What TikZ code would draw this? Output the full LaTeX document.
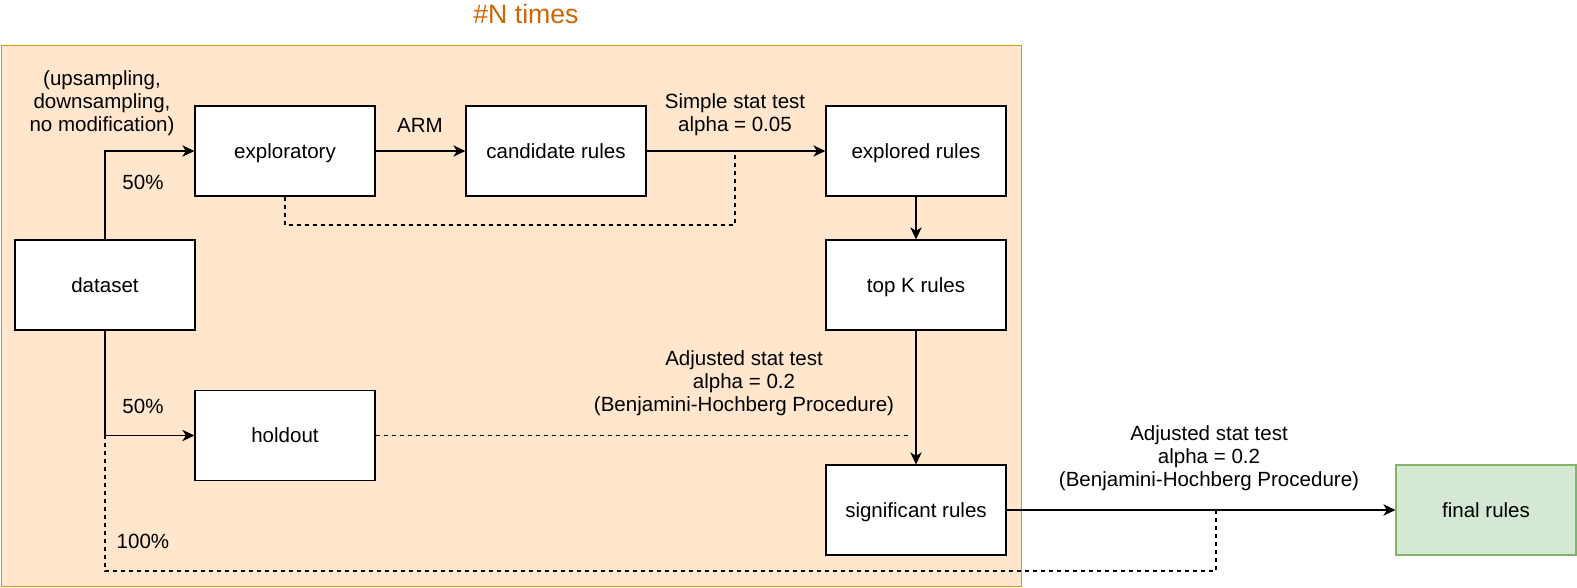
\documentclass[tikz,border=0pt]{standalone}
\usepackage{fontspec}
\setmainfont{Liberation Sans}
\usepackage{xcolor}
\usetikzlibrary{arrows.meta,positioning,calc}

\definecolor{loopfill}{HTML}{FFE6CC}
\definecolor{loopdraw}{HTML}{D79B00}
\definecolor{looptext}{HTML}{CC6600}
\definecolor{finalfill}{HTML}{D5E8D4}
\definecolor{finaldraw}{HTML}{82B366}

\begin{document}
\begin{tikzpicture}[x=0.75pt, y=-0.75pt, >={Stealth[length=9pt,width=8.5pt,inset=2.6pt]}, line width=0.9pt,
    box/.style={draw, rectangle, fill=white, minimum width=135pt, minimum height=67.5pt, align=center, font=\fontsize{15.4}{17.6}\selectfont, inner sep=0pt, text height=13pt, text depth=2.4pt},
    lbl/.style={align=center, font=\fontsize{15.4}{17.3}\selectfont, inner sep=0pt},
    dashline/.style={line width=0.8pt, dash pattern=on 3pt off 3pt}]
    \useasboundingbox (0,0) rectangle (1577,587);

    % repeated part
    \draw[loopdraw, fill=loopfill, line width=0.75pt] (1,45) rectangle (1021,586);
    \node[lbl, text=looptext, font=\fontsize{20}{24}\selectfont] (ntimes) at (526,14) {\#N times};

    \node[box] (data) at (105,285) {dataset};
    \node[box] (expl) at (285,151) {exploratory};
    \node[box] (cand) at (556,151) {candidate rules};
    \node[box] (explr) at (916,151) {explored rules};
    \node[box] (topk) at (916,285) {top K rules};
    \node[box] (hold) at (285,435.5) {holdout};
    \node[box] (sig) at (916,510) {significant rules};
    \node[box, fill=finalfill, draw=finaldraw] (final) at (1486,510) {final rules};

    \node[lbl] (sampl) at (102,103) {(upsampling,\\downsampling,\\no modification)};
    \node[lbl] (pcta) at (143,182) {50\%};
    \node[lbl] (pctb) at (143,406) {50\%};
    \node[lbl] (pctc) at (143,541) {100\%};
    \node[lbl] (arm) at (420,125) {ARM};
    \node[lbl] (simple) at (735,115) {Simple stat test\\alpha = 0.05};
    \node[lbl] (adja) at (744,383) {Adjusted stat test\\alpha = 0.2\\(Benjamini-Hochberg Procedure)};
    \node[lbl] (adjb) at (1209,458) {Adjusted stat test\\alpha = 0.2\\(Benjamini-Hochberg Procedure)};

    \coordinate (c1) at (735,151);
    \coordinate (c2) at (911,435.5);
    \coordinate (c3) at (1216,510);

    \draw[->] (data.north) |- (expl.west);
    \draw[->] (data.south) |- (hold.west);
    \draw[->] (expl) -- (cand);
    \draw[->] (cand) -- (explr);
    \draw[->] (explr) -- (topk);
    \draw[->] (topk) -- (sig);
    \draw[->] (sig) -- (final);

    \draw[dashline] (expl.south) |- (735,225) -- (c1);
    \draw[dashline] (hold.east) -- (c2);
    \draw[dashline] (data.south) |- (1216,571) -- (c3);
\end{tikzpicture}
\end{document}
